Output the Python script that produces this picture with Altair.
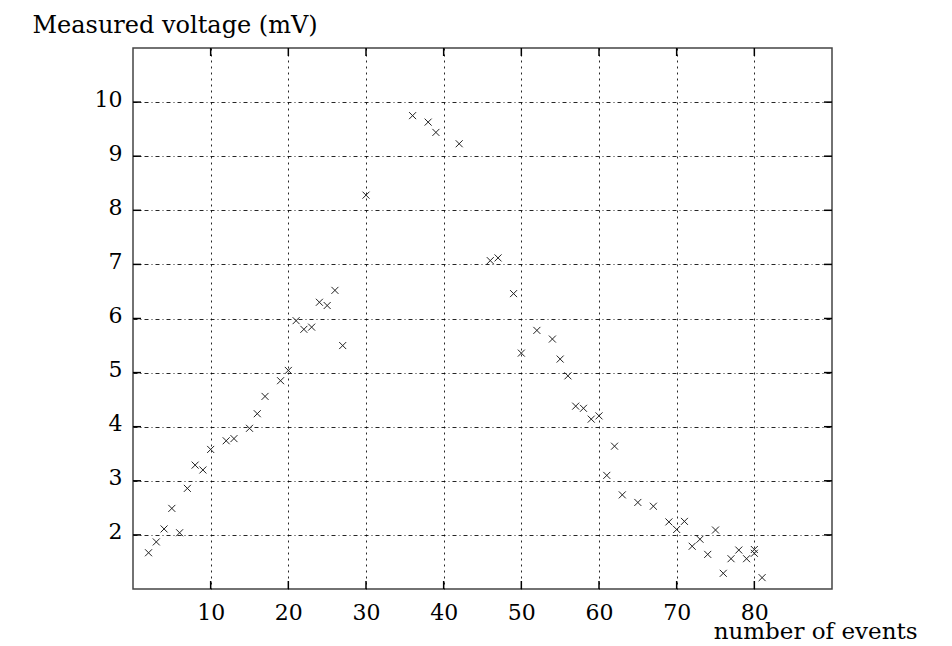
import altair as alt
import pandas as pd

# ---- data ----
events = [2, 3, 4, 5, 6, 7, 8, 9, 10, 12, 13, 15, 16, 17, 19, 20,
          21, 22, 23, 24, 25, 26, 27, 30, 36, 38, 39, 42,
          46, 47, 49, 50, 52, 54, 55, 56, 57, 58, 59, 60,
          61, 62, 63, 65, 67, 69, 70, 71, 72,
          73, 74, 75, 76, 77, 78, 79, 80, 80, 81]
voltage = [1.67, 1.87, 2.11, 2.49, 2.04, 2.86, 3.29, 3.20, 3.58, 3.74, 3.78, 3.97, 4.24, 4.56, 4.85, 5.04,
           5.96, 5.80, 5.84, 6.30, 6.24, 6.52, 5.50, 8.28, 9.75, 9.63, 9.44, 9.23,
           7.07, 7.12, 6.46, 5.36, 5.78, 5.62, 5.25, 4.94, 4.38, 4.34, 4.14, 4.20,
           3.10, 3.64, 2.74, 2.60, 2.53, 2.24, 2.10, 2.25, 1.79,
           1.92, 1.64, 2.09, 1.29, 1.56, 1.72, 1.56, 1.73, 1.66, 1.21]
x_ticks = [10, 20, 30, 40, 50, 60, 70, 80]
y_ticks = [2, 3, 4, 5, 6, 7, 8, 9, 10]
x_domain = [0, 90]
y_domain = [1, 11]

df = pd.DataFrame({"events": events, "voltage": voltage})
dfx = pd.DataFrame({"t": x_ticks})
dfy = pd.DataFrame({"t": y_ticks})

W, H = 699, 541
TL = 8  # inward tick length
FONT = "DejaVu Serif"

xs = alt.Scale(domain=x_domain, nice=False, zero=False)
ys = alt.Scale(domain=y_domain, nice=False, zero=False)

x_axis = alt.Axis(
    values=x_ticks, title="number of events", grid=True,
    gridDash=[2, 4], gridColor="black", gridOpacity=0.85, gridWidth=1,
    ticks=False, tickSize=0, domain=False,
    labelFont=FONT, labelFontSize=22, labelColor="#000", labelPadding=13,
    labelFlush=False,
    titleFont=FONT, titleFontSize=23, titleFontWeight="normal", titleColor="#000",
    titleAlign="right", titleBaseline="alphabetic", titleX=784, titleY=49,
)
y_axis = alt.Axis(
    values=y_ticks, title="Measured voltage (mV)", grid=True,
    gridDash=[4, 3, 1, 3], gridColor="black", gridOpacity=0.85, gridWidth=1,
    ticks=False, tickSize=0, domain=False,
    labelFont=FONT, labelFontSize=22, labelColor="#000", labelPadding=11,
    labelBaseline="alphabetic", labelOffset=4, labelFlush=False,
    titleFont=FONT, titleFontSize=24, titleFontWeight="normal", titleColor="#000",
    titleAngle=0, titleAlign="left", titleBaseline="alphabetic",
    titleX=-101, titleY=-16,
)

points = alt.Chart(df).mark_point(
    shape="M-1,-1L1,1M-1,1L1,-1", filled=False, size=49,
    stroke="#222", strokeWidth=1, opacity=1,
).encode(
    x=alt.X("events:Q", scale=xs, axis=x_axis),
    y=alt.Y("voltage:Q", scale=ys, axis=y_axis),
)

tick_style = dict(color="black", strokeWidth=1.5)
bottom_ticks = alt.Chart(dfx).mark_rule(**tick_style).encode(
    x=alt.X("t:Q", scale=xs, axis=x_axis), y=alt.value(H), y2=alt.value(H - TL))
top_ticks = alt.Chart(dfx).mark_rule(**tick_style).encode(
    x=alt.X("t:Q", scale=xs, axis=x_axis), y=alt.value(0), y2=alt.value(TL))
left_ticks = alt.Chart(dfy).mark_rule(**tick_style).encode(
    y=alt.Y("t:Q", scale=ys, axis=y_axis), x=alt.value(0), x2=alt.value(TL))
right_ticks = alt.Chart(dfy).mark_rule(**tick_style).encode(
    y=alt.Y("t:Q", scale=ys, axis=y_axis), x=alt.value(W), x2=alt.value(W - TL))

chart = alt.layer(points, bottom_ticks, top_ticks, left_ticks, right_ticks).properties(
    width=W, height=H,
    autosize=alt.AutoSizeParams(type="none"),
    padding={"left": 125, "top": 40, "right": 112, "bottom": 55},
    background="white",
).configure_view(stroke="#444", strokeWidth=1.5)

chart.save("out.html", embed_options={"renderer": "svg", "actions": False})
